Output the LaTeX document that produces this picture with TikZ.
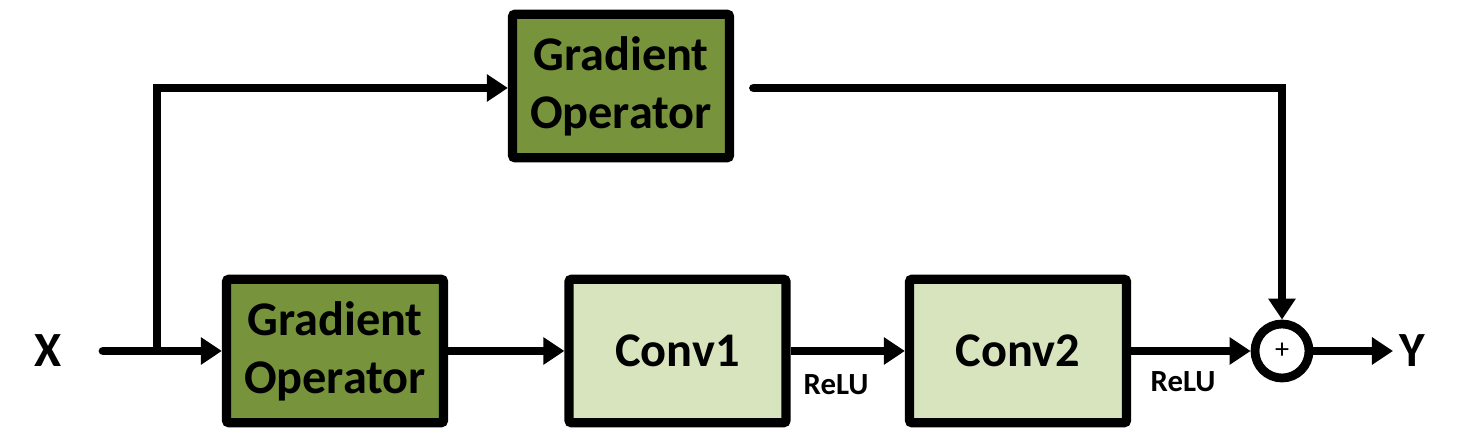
\documentclass[tikz,border=0pt]{standalone}
\usepackage{fontspec}
\setmainfont{Carlito}
\usepackage{tikz}
\usetikzlibrary{arrows.meta}

\definecolor{darkolive}{HTML}{77933C}
\definecolor{lightolive}{HTML}{D7E4BD}

\begin{document}
\begin{tikzpicture}[every node/.style={font=\bfseries},
  blk/.style={draw, line width=5.3pt, rounded corners=1.5pt, minimum width=4.34cm, minimum height=2.87cm,
    align=center, font=\fontsize{27.5}{33}\selectfont\bfseries},
  gradblk/.style={blk, fill=darkolive},
  convblk/.style={blk, fill=lightolive},
  wire/.style={line width=5pt, -{Triangle[length=12pt,width=15pt]}}]
\useasboundingbox (0,0) rectangle (29.16,8.84);

% Input and output
\node (x) at (0.96,1.82) {\fontsize{28}{30}\selectfont X};
\node (y) at (28.24,1.82) {\fontsize{28}{30}\selectfont Y};
\coordinate (in) at (2.06,1.82);
\coordinate (split) at (3.14,1.82);

% Top branch
\node[gradblk] (topgrad) at (12.42,7.12) {Gradient\\Operator};

% Main path
\node[gradblk] (grad) at (6.70,1.82) {Gradient\\Operator};
\node[convblk] (conv1) at (13.55,1.82) {Conv1};
\node[convblk] (conv2) at (20.36,1.82) {Conv2};

% Adder
\node[draw, circle, line width=5pt, minimum size=1.08cm, inner sep=0pt, font=\fontsize{16}{16}\selectfont] (sum) at (25.64,1.82) {+};

% Connectors
\draw[wire, line cap=round] (in) -- (grad);
\draw[wire] (split) |- ([yshift=-0.04cm]topgrad.west);
\draw[wire] (grad) -- (conv1);
\draw[wire] (conv1) -- (conv2);
\draw[wire] (conv2) -- (sum);
\draw[wire, line cap=round, shorten <=11pt] ([yshift=-0.04cm]topgrad.east) -| (sum.north);
\draw[wire] (sum) -- (y);

% Activations
\node at (16.72,1.14) {\fontsize{17.5}{19}\selectfont ReLU};
\node at (23.66,1.2) {\fontsize{17.5}{19}\selectfont ReLU};
\end{tikzpicture}
\end{document}
